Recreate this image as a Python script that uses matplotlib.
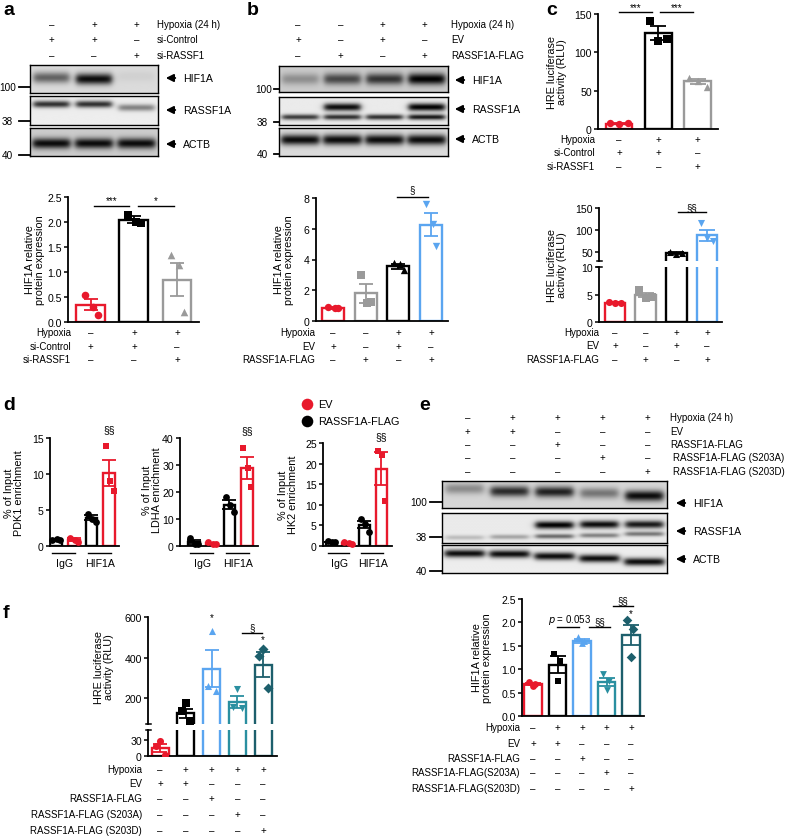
import numpy as np
import matplotlib
matplotlib.use('Agg')
import matplotlib.pyplot as plt
from matplotlib import transforms

plt.rcParams['font.family'] = ['Liberation Sans', 'DejaVu Sans']
plt.rcParams['font.size'] = 7

W, H = 787, 837

RED = '#e8192c'
GRAY = '#9a9a9a'
BLUE = '#5aa5f0'
TEAL = '#2a8fa0'
DTEAL = '#1d5f6c'

TFS = 7.0   # condition table text
KFS = 7.6   # tick labels

# ---------------- data ----------------
# panel a
a_means = [0.35, 2.05, 0.85]
a_sems = [0.11, 0.07, 0.33]
a_pts = [[0.55, 0.30, 0.15], [2.15, 2.00, 1.98], [1.35, 1.15, 0.20]]
a_rows = ['Hypoxia', 'si-Control', 'si-RASSF1']
a_cond = [['–', '+', '+'], ['+', '+', '–'], ['–', '–', '+']]
a_blot_rows = ['Hypoxia (24 h)', 'si-Control', 'si-RASSF1']
a_hif1a = [0.55, 0.95, 0.05]
a_rassf1a = [0.8, 0.8, 0.45]
a_actb = [0.95, 0.95, 0.95]

# panel b
b_means = [0.85, 1.8, 3.55, 6.25]
b_sems = [0.05, 0.6, 0.15, 0.75]
b_pts = [[0.9, 0.85, 0.85], [3.0, 1.2, 1.25], [3.75, 3.7, 3.3], [7.6, 6.3, 4.9]]
b_rows = ['Hypoxia', 'EV', 'RASSF1A-FLAG']
b_cond = [['–', '–', '+', '+'], ['+', '–', '+', '–'], ['–', '+', '–', '+']]
b_blot_rows = ['Hypoxia (24 h)', 'EV', 'RASSF1A-FLAG']
b_hif1a = [0.3, 0.65, 0.75, 1.0]
b_rassf1a_up = [0.0, 0.95, 0.0, 1.0]
b_rassf1a_lo = [0.75, 0.8, 0.8, 0.9]
b_actb = [0.95, 0.95, 0.95, 0.95]

# panel c (top)
c1_means = [7, 125, 62]
c1_sems = [0.5, 9, 3]
c1_pts = [[7.5, 6, 7.5], [141, 115, 118], [67, 63, 55]]
# panel c (bottom)
c2_means = [3.5, 4.9, 48, 88]
c2_sems = [0.05, 0.4, 2, 12]
c2_pts = [[3.6, 3.4, 3.5], [5.8, 4.3, 4.6], [50, 46, 48], [115, 82, 75]]

# panel d
d_groups = ['IgG', 'HIF1A']
d_pdk1_means = [0.9, 0.9, 3.9, 10.2]
d_pdk1_sems = [0.05, 0.15, 0.35, 1.8]
d_pdk1_pts = [[0.9, 0.95, 0.8], [1.1, 0.9, 0.6], [4.5, 3.7, 3.3], [13.9, 9.0, 7.6]]
d_ldha_means = [1.5, 1.0, 15.3, 28.8]
d_ldha_sems = [0.6, 0.25, 1.7, 4.0]
d_ldha_pts = [[2.8, 0.9, 0.8], [1.5, 0.9, 0.7], [18.2, 15.2, 12.5], [36.2, 29.0, 22.0]]
d_hk2_means = [1.0, 0.7, 5.2, 18.8]
d_hk2_sems = [0.06, 0.1, 0.9, 4.0]
d_hk2_pts = [[1.1, 1.0, 0.9], [0.9, 0.7, 0.5], [6.6, 5.3, 3.5], [23.0, 22.0, 11.0]]

# panel e
e_means = [0.68, 1.1, 1.6, 0.73, 1.73]
e_sems = [0.02, 0.18, 0.04, 0.09, 0.22]
e_pts = [[0.72, 0.68, 0.65], [1.33, 1.18, 0.75], [1.68, 1.6, 1.55],
         [0.9, 0.75, 0.55], [2.05, 1.85, 1.27]]
e_rows = ['Hypoxia', 'EV', 'RASSF1A-FLAG', 'RASSF1A-FLAG(S203A)', 'RASSF1A-FLAG(S203D)']
e_cond = [['–', '+', '+', '+', '+'], ['+', '+', '–', '–', '–'], ['–', '–', '+', '–', '–'],
          ['–', '–', '–', '+', '–'], ['–', '–', '–', '–', '+']]
e_blot_rows = ['Hypoxia (24 h)', 'EV', 'RASSF1A-FLAG', 'RASSF1A-FLAG (S203A)', 'RASSF1A-FLAG (S203D)']
e_hif1a = [0.35, 0.8, 0.85, 0.45, 0.95]
e_rassf1a_up = [0.0, 0.0, 1.0, 0.95, 0.9]
e_rassf1a_lo = [0.2, 0.3, 0.55, 0.45, 0.5]
e_actb = [0.95, 0.95, 0.95, 0.95, 0.95]

# panel f
f_means = [15, 125, 345, 180, 365]
f_sems = [7, 22, 90, 30, 60]
f_pts = [[28, 18, 2], [175, 135, 85], [530, 260, 235], [245, 155, 150], [440, 410, 250]]
f_rows = ['Hypoxia', 'EV', 'RASSF1A-FLAG', 'RASSF1A-FLAG (S203A)', 'RASSF1A-FLAG (S203D)']

# ---------------- helpers ----------------
fig = plt.figure(figsize=(W / 100, H / 100), dpi=100)

ov = fig.add_axes([0, 0, 1, 1])
ov.set_xlim(0, W)
ov.set_ylim(H, 0)
ov.axis('off')


def box(x0, y0, x1, y1):
    return fig.add_axes([x0 / W, 1 - y1 / H, (x1 - x0) / W, (y1 - y0) / H])


def style(ax, ylim, ticks, fmt=None):
    ax.set_ylim(*ylim)
    ax.set_yticks(ticks)
    if fmt:
        ax.set_yticklabels([fmt.format(t) for t in ticks])
    for s in ['top', 'right']:
        ax.spines[s].set_visible(False)
    ax.spines['left'].set_linewidth(1.3)
    ax.spines['bottom'].set_linewidth(1.3)
    ax.set_xticks([])
    ax.tick_params(axis='y', length=3, width=1.1, labelsize=KFS, pad=1.5)
    ax.patch.set_visible(False)


def bars(ax, means, sems, pts, colors, markers, width=0.68, ms=20, offs=(-0.14, 0.05, 0.16)):
    for i, (m, s, p, c, mk) in enumerate(zip(means, sems, pts, colors, markers)):
        ax.bar(i, m, width, color='none', edgecolor=c, linewidth=1.7, zorder=2)
        ax.errorbar(i, m, yerr=s, color=c, capsize=width * 8, capthick=1.3, lw=1.3, zorder=3)
        ax.scatter([i + o for o in offs[:len(p)]], p, marker=mk, color=c, s=ms,
                   zorder=4, linewidths=0, clip_on=False)


def table(ax, labels, cond, offs, dx=0, fs=TFS):
    for r, lab in enumerate(labels):
        tr = transforms.offset_copy(ax.transAxes, fig=fig, x=dx, y=-offs[r], units='dots')
        ax.text(0, 0, lab, transform=tr, ha='right', va='center', fontsize=fs)
        tr2 = transforms.offset_copy(ax.get_xaxis_transform(), fig=fig, x=0, y=-offs[r], units='dots')
        for i, s in enumerate(cond[r]):
            ax.text(i, 0, s, transform=tr2, ha='center', va='center', fontsize=fs)


def sig(ax, x0, x1, y, txt, dy=0.0, fs=7):
    ax.plot([x0, x1], [y, y], color='black', lw=1.0, clip_on=False)
    ax.text((x0 + x1) / 2, y + dy, txt, ha='center', va='bottom', fontsize=fs)


def blot(ax, bands, bg, n):
    xs = np.linspace(0, n, 120 * n)
    ys = np.linspace(0, 1, 80)
    img = np.full((len(ys), len(xs)), float(bg))
    for levels, pos, hh, lw in bands:
        if np.isscalar(pos):
            pos = [pos] * n
        for i, (lv, yc) in enumerate(zip(levels, pos)):
            px = 1 / (1 + np.exp((np.abs(xs - (i + 0.5)) - lw) / 0.04))
            py = np.exp(-((ys - yc) / hh) ** 2)
            img -= lv * bg * np.outer(py, px)
    img = np.clip(img, 0, 1)
    ax.imshow(img, extent=(0, n, 0, 1), origin='lower', cmap='gray', vmin=0, vmax=1,
              aspect='auto', interpolation='bilinear')
    ax.set_xlim(0, n)
    ax.set_ylim(0, 1)
    ax.set_xticks([])
    ax.set_yticks([])
    for s in ax.spines.values():
        s.set_linewidth(1.0)


def blot_cond(x0, x1, ys, labels, cond, lab_x, shift=0, lab_x2=None):
    n = len(cond[0])
    for r, (lab, y) in enumerate(zip(labels, ys)):
        for i, s in enumerate(cond[r]):
            ov.text(x0 + (x1 - x0) * (i + 0.5) / n + shift, y, s, ha='center', va='center', fontsize=TFS)
        lx = lab_x if (lab_x2 is None or r < 3) else lab_x2
        ov.text(lx, y, lab, ha='left', va='center', fontsize=TFS)


def arrow(x, y, label):
    ov.annotate('', xy=(x, y), xytext=(x + 15, y),
                arrowprops=dict(arrowstyle='-|>', color='black', lw=1.4, mutation_scale=11))
    ov.text(x + 20, y, label, ha='left', va='center', fontsize=7.6)


def marker(xr, x0, x1, y, label):
    ov.plot([x0, x1], [y, y], color='black', lw=1.3)
    ov.text(xr, y, label, ha='right', va='center', fontsize=7.2)


def ylab(x, y, s):
    ov.text(x, y, s, rotation=90, ha='center', va='center', fontsize=7.8, linespacing=1.05)


def letter(x, y, s):
    ov.text(x, y, s, ha='left', va='center', fontsize=14, fontweight='bold')


def brk(x, y):
    ov.plot([x - 2, x + 3], [y, y], color='black', lw=1.1)


# ---------------- panel a ----------------
letter(3, 10, 'a')
axb = box(30, 66, 158, 94)
blot(axb, [(a_hif1a, [0.55, 0.5, 0.6], 0.2, 0.42)], 0.86, 3)
axr = box(30, 97, 158, 126)
blot(axr, [(a_rassf1a, [0.72, 0.72, 0.6], 0.12, 0.42)], 0.93, 3)
axc = box(30, 129, 158, 157)
blot(axc, [(a_actb, 0.45, 0.19, 0.44)], 0.8, 3)
blot_cond(30, 158, [25, 40, 56], a_blot_rows, a_cond, 157)
marker(16, 19, 30, 88, '100')
marker(13, 19, 30, 122, '38')
marker(13, 19, 30, 156, '40')
arrow(163, 79, 'HIF1A')
arrow(163, 111, 'RASSF1A')
arrow(163, 145, 'ACTB')

ax = box(68, 198, 199, 323)
bars(ax, a_means, a_sems, a_pts, [RED, 'black', GRAY], ['o', 's', '^'], width=0.67, ms=30)
ax.set_xlim(-0.53, 2.51)
style(ax, (0, 2.5), [0, 0.5, 1.0, 1.5, 2.0, 2.5], '{:.1f}')
sig(ax, 0.07, 0.88, 2.32, '***', dy=0.02)
sig(ax, 1.09, 1.93, 2.32, '*', dy=0.02)
table(ax, a_rows, a_cond, [10, 24, 37], dx=3)
ylab(35, 260, 'HIF1A relative\nprotein expression')

# ---------------- panel b ----------------
letter(247, 10, 'b')
axb = box(279, 67, 448, 93)
blot(axb, [(b_hif1a, 0.5, 0.22, 0.43)], 0.8, 4)
axr = box(279, 98, 448, 126)
blot(axr, [(b_rassf1a_up, 0.64, 0.14, 0.43), (b_rassf1a_lo, 0.28, 0.1, 0.43)], 0.92, 4)
axc = box(279, 129, 448, 157)
blot(axc, [(b_actb, 0.58, 0.19, 0.45)], 0.86, 4)
blot_cond(279, 448, [25, 40, 56], b_blot_rows, b_cond, 451, shift=-2)
marker(272, 274, 279, 90, '100')
marker(268, 274, 279, 123, '38')
marker(268, 274, 279, 155, '40')
arrow(452, 81, 'HIF1A')
arrow(452, 110, 'RASSF1A')
arrow(452, 140, 'ACTB')

ax = box(316, 199, 448, 322)
bars(ax, b_means, b_sems, b_pts, [RED, GRAY, 'black', BLUE], ['o', 's', '^', 'v'], width=0.67, ms=28)
ax.set_xlim(-0.52, 3.52)
style(ax, (0, 8), [0, 2, 4, 6, 8])
sig(ax, 1.96, 2.91, 8.05, '§', dy=0.2)
table(ax, b_rows, b_cond, [11, 25, 38], dx=-1)
ylab(284, 260, 'HIF1A relative\nprotein expression')

# ---------------- panel c ----------------
letter(546, 10, 'c')
ax = box(598, 15, 718, 130)
bars(ax, c1_means, c1_sems, c1_pts, [RED, 'black', GRAY], ['o', 's', '^'], width=0.68, ms=28,
     offs=(-0.22, 0.0, 0.22))
ax.set_xlim(-0.53, 2.51)
style(ax, (0, 150), [0, 50, 100, 150])
sig(ax, 0.0, 0.84, 152, '***', dy=1)
sig(ax, 1.03, 1.87, 152, '***', dy=1)
table(ax, a_rows, a_cond, [10, 23, 37], dx=-3)
ylab(557, 72, 'HRE luciferase\nactivity (RLU)')

c2_colors = [RED, GRAY, 'black', BLUE]
c2_markers = ['o', 's', '^', 'v']
axu = box(599, 209, 722, 262)
axl = box(599, 268, 722, 323)
for a_ in (axu, axl):
    bars(a_, c2_means, c2_sems, c2_pts, c2_colors, c2_markers, width=0.68, ms=26,
         offs=(-0.2, 0.0, 0.2))
    a_.set_xlim(-0.52, 3.49)
    for p in a_.collections:
        p.set_clip_on(True)
style(axu, (30, 150), [50, 100, 150])
style(axl, (0, 10), [0, 5, 10])
axu.spines['bottom'].set_visible(False)
brk(599, 262)
brk(599, 268)
sig(axu, 2.05, 2.96, 140, '§§', dy=1)
table(axl, b_rows, b_cond, [10, 23, 37], dx=0)
ylab(557, 265, 'HRE luciferase\nactivity (RLU)')

# ---------------- panel d ----------------
letter(3, 405, 'd')
ov.scatter([307], [405], s=70, color=RED, linewidths=0)
ov.text(318, 405, 'EV', ha='left', va='center', fontsize=7.8)
ov.scatter([307], [422], s=70, color='black', linewidths=0)
ov.text(318, 422, 'RASSF1A-FLAG', ha='left', va='center', fontsize=7.8)

d_colors = ['black', RED, 'black', RED]
d_markers = ['o', 'o', 'o', 's']
d_specs = [
    ((50, 439, 119, 547), (-0.34, 3.56), d_pdk1_means, d_pdk1_sems, d_pdk1_pts, (0, 15), [0, 5, 10, 15], 15.6,
     (14, 493, '% of Input\nPDK1 enrichment')),
    ((180, 439, 258, 547), (-0.79, 3.62), d_ldha_means, d_ldha_sems, d_ldha_pts, (0, 40), [0, 10, 20, 30, 40], 41.0,
     (152, 490, '% of Input\nLDHA enrichment')),
    ((323, 444, 392, 547), (-0.48, 3.65), d_hk2_means, d_hk2_sems, d_hk2_pts, (0, 25), [0, 5, 10, 15, 20, 25], 25.4,
     (288, 495, '% of Input\nHK2 enrichment')),
]
for bx, xl, mns, sms, pts, yl, tk, sy, yl_txt in d_specs:
    ax = box(*bx)
    bars(ax, mns, sms, pts, d_colors, d_markers, width=0.66, ms=24, offs=(-0.2, 0.05, 0.25))
    ax.set_xlim(*xl)
    style(ax, yl, tk)
    ax.text(3, sy, '§§', ha='center', va='bottom', fontsize=7.6)
    tr = transforms.offset_copy(ax.get_xaxis_transform(), fig=fig, x=0, y=-7, units='dots')
    tr2 = transforms.offset_copy(ax.get_xaxis_transform(), fig=fig, x=0, y=-17, units='dots')
    for g, lab in enumerate(d_groups):
        ax.plot([2 * g - 0.2, 2 * g + 1.1], [0, 0], color='black', lw=1.0, transform=tr, clip_on=False)
        ax.text(2 * g + 0.5, 0, lab, ha='center', va='center', fontsize=7.6, transform=tr2)
    ylab(*yl_txt)

# ---------------- panel e ----------------
letter(419, 405, 'e')
axb = box(442, 482, 667, 509)
blot(axb, [(e_hif1a, [0.72, 0.62, 0.6, 0.55, 0.45], 0.2, 0.42)], 0.84, 5)
axr = box(442, 514, 667, 544)
blot(axr, [(e_rassf1a_up, [0.57, 0.57, 0.6, 0.62, 0.62], 0.13, 0.42),
           (e_rassf1a_lo, [0.18, 0.2, 0.22, 0.25, 0.3], 0.08, 0.42)], 0.92, 5)
axc = box(442, 546, 667, 574)
blot(axc, [(e_actb, [0.7, 0.68, 0.6, 0.52, 0.4], 0.14, 0.44)], 0.93, 5)
blot_cond(442, 667, [418, 432, 445, 458, 472], e_blot_rows, e_cond, 670, shift=3, lab_x2=673)
marker(427, 430, 442, 503, '100')
marker(427, 430, 442, 538, '38')
marker(427, 430, 442, 572, '40')
arrow(673, 504, 'HIF1A')
arrow(673, 532, 'RASSF1A')
arrow(673, 560, 'ACTB')

ax = box(522, 600, 644, 717)
e_colors = [RED, 'black', BLUE, TEAL, DTEAL]
e_markers = ['o', 's', '^', 'v', 'D']
bars(ax, e_means, e_sems, e_pts, e_colors, e_markers, width=0.7, ms=24, offs=(-0.15, 0.1, 0.0))
ax.set_xlim(-0.45, 4.53)
style(ax, (0, 2.5), [0, 0.5, 1.0, 1.5, 2.0, 2.5], '{:.1f}')
ax.plot([0.98, 1.88], [1.91, 1.91], color='black', lw=1.0)
ax.text(1.5, 1.93, '$p$ = 0.053', ha='center', va='bottom', fontsize=7)
sig(ax, 2.29, 3.14, 1.91, '§§', dy=0.02)
sig(ax, 3.27, 4.08, 2.34, '§§', dy=0.02)
ax.text(4, 2.1, '*', ha='center', va='bottom', fontsize=7)
table(ax, e_rows, e_cond, [11, 27, 42, 56, 72], dx=-2)
ylab(482, 658, 'HIF1A relative\nprotein expression')

# ---------------- panel f ----------------
letter(3, 613, 'f')
axu = box(148, 618, 277, 725)
axl = box(148, 731, 277, 757)
for a_ in (axu, axl):
    bars(a_, f_means, f_sems, f_pts, e_colors, e_markers, width=0.66, ms=26, offs=(0.0, -0.15, 0.18))
    a_.set_xlim(-0.47, 4.54)
    for p in a_.collections:
        p.set_clip_on(True)
style(axu, (72, 600), [200, 400, 600])
style(axl, (0, 48), [0, 30])
axu.spines['bottom'].set_visible(False)
brk(148, 725)
brk(148, 731)
axu.text(2, 575, '*', ha='center', va='bottom', fontsize=7)
axu.text(4, 465, '*', ha='center', va='bottom', fontsize=7)
sig(axu, 3.18, 3.96, 521, '§', dy=5)
table(axl, f_rows, e_cond, [13, 27, 42, 58, 74], dx=-6)
ylab(104, 667, 'HRE luciferase\nactivity (RLU)')

fig.savefig('out.png', dpi=100)
